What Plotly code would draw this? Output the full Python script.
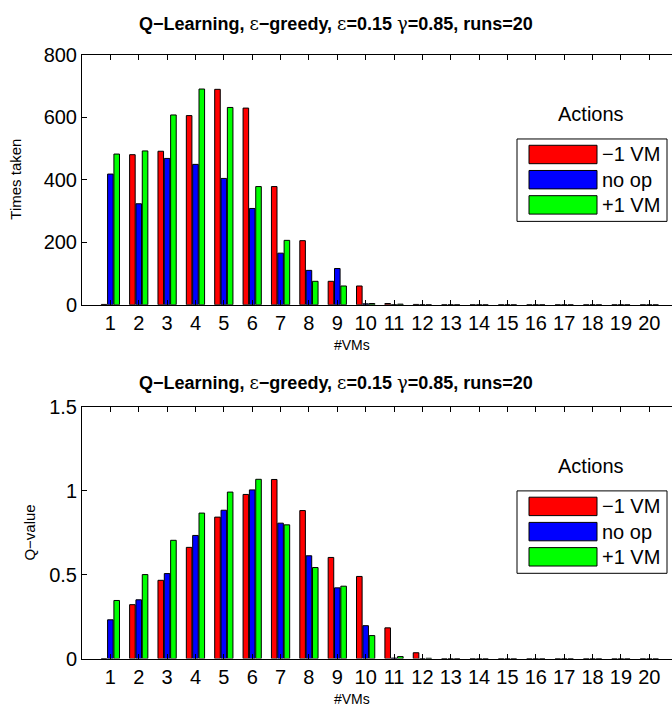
import plotly.graph_objects as go

# ---------------- data ----------------
vms = list(range(1, 21))
series_names = ["\u22121 VM", "no op", "+1 VM"]
series_colors = ["#FF0000", "#0000FF", "#00FF00"]

times_minus = [1, 480, 491, 605, 689, 629, 378, 205, 75, 60, 4, 1, 0, 0, 0, 0, 0, 0, 0, 0]
times_noop = [418, 323, 468, 449, 404, 308, 165, 110, 116, 3, 0, 0, 0, 0, 0, 0, 0, 0, 0, 0]
times_plus = [482, 492, 607, 690, 631, 378, 206, 75, 60, 4, 2, 0, 0, 0, 0, 0, 0, 0, 0, 0]

q_minus = [0, 0.321, 0.466, 0.662, 0.842, 0.977, 1.066, 0.881, 0.602, 0.489, 0.183, 0.035, 0, 0, 0, 0, 0, 0, 0, 0]
q_noop = [0.231, 0.350, 0.506, 0.733, 0.883, 1.004, 0.806, 0.612, 0.421, 0.196, 0.003, 0, 0, 0, 0, 0, 0, 0, 0, 0]
q_plus = [0.346, 0.500, 0.704, 0.866, 0.991, 1.067, 0.796, 0.542, 0.431, 0.137, 0.012, 0.002, 0, 0, 0, 0, 0, 0, 0, 0]

top_yticks = [0, 200, 400, 600, 800]
bot_yticks = [0, 0.5, 1, 1.5]
bot_yticklabels = ["0", "0.5", "1", "1.5"]

# ---------------- layout geometry (pixels) ----------------
W, H = 672, 721
L = 82
FONT = "Liberation Sans, Arial, sans-serif"

def py(p):
    return 1 - p / H

def px(p):
    return (p - L) / (W - L)

top_axis = (45, 303)     # top px, bottom px
bot_axis = (408, 668)

fig = go.Figure()

for vals, name, col in zip([times_minus, times_noop, times_plus], series_names, series_colors):
    fig.add_trace(go.Bar(x=vms, y=vals, name=name, marker=dict(color=col, line=dict(color="black", width=1)),
                         xaxis="x", yaxis="y", showlegend=False))
for vals, name, col in zip([q_minus, q_noop, q_plus], series_names, series_colors):
    fig.add_trace(go.Bar(x=vms, y=vals, name=name, marker=dict(color=col, line=dict(color="black", width=1)),
                         xaxis="x2", yaxis="y2", showlegend=False))

xcommon = dict(range=[0, 20.80], tickmode="array", tickvals=vms, ticktext=[str(v) for v in vms],
               ticks="inside", ticklen=5, tickcolor="black", showline=True, linecolor="black",
               linewidth=1, mirror="allticks", showgrid=False, zeroline=False,
               tickfont=dict(family=FONT, size=20, color="black"))
ycommon = dict(ticks="inside", ticklen=5, tickcolor="black", showline=True, linecolor="black",
               linewidth=1, showgrid=False, zeroline=False,
               tickfont=dict(family=FONT, size=20, color="black"))

fig.update_layout(
    width=W, height=H,
    margin=dict(l=L, r=0, t=0, b=0),
    paper_bgcolor="white", plot_bgcolor="white",
    barmode="group", bargap=0.33, bargroupgap=0.12,
    xaxis=dict(domain=[0, 1], anchor="y", **xcommon),
    yaxis=dict(domain=[py(top_axis[1]), py(top_axis[0])], range=[0, 800], tickvals=top_yticks,
               anchor="x", **ycommon),
    xaxis2=dict(domain=[0, 1], anchor="y2", **xcommon),
    yaxis2=dict(domain=[py(bot_axis[1]), py(bot_axis[0])], range=[0, 1.5], tickvals=bot_yticks,
                ticktext=bot_yticklabels, anchor="x2", **ycommon),
    showlegend=False,
)

eps = "<span style='font-weight:normal;font-family:DejaVu Serif'>\u03b5</span>"
gam = "<span style='font-weight:normal;font-family:DejaVu Serif'>\u03b3</span>"
title = ("<b>Q\u2212Learning, </b>" + eps + "<b>\u2212greedy, </b>" + eps + "<b>=0.15 </b>" + gam +
         "<b>=0.85, runs=20</b>")

annotations = []
shapes = []
for (atop, abot), ylab, ylx, tgap in [(top_axis, "Times taken", 16, 32), (bot_axis, "Q\u2212value", 30, 25)]:
    annotations.append(dict(text=title, x=px(336), y=py(atop - tgap), xref="paper", yref="paper",
                            showarrow=False, xanchor="center", yanchor="middle",
                            font=dict(family=FONT, size=18, color="black")))
    annotations.append(dict(text="#VMs", x=px(352), y=py(abot + 42), xref="paper", yref="paper",
                            showarrow=False, xanchor="center", yanchor="middle",
                            font=dict(family=FONT, size=14, color="black")))
    annotations.append(dict(text=ylab, x=px(ylx), y=py((atop + abot) / 2), xref="paper", yref="paper",
                            showarrow=False, xanchor="center", yanchor="middle", textangle=-90,
                            font=dict(family=FONT, size=15, color="black")))
    # legend
    annotations.append(dict(text="Actions", x=px(591), y=py(atop + 61), xref="paper", yref="paper",
                            showarrow=False, xanchor="center", yanchor="middle",
                            font=dict(family=FONT, size=20, color="black")))
    shapes.append(dict(type="rect", xref="paper", yref="paper", x0=px(517), x1=px(667),
                       y0=py(atop + 87), y1=py(atop + 172), line=dict(color="black", width=1),
                       fillcolor="white"))
    for i, (name, col) in enumerate(zip(series_names, series_colors)):
        cy = atop + 103 + 26 * i
        shapes.append(dict(type="rect", xref="paper", yref="paper", x0=px(529), x1=px(597),
                           y0=py(cy + 9.5), y1=py(cy - 9.5), line=dict(color="black", width=1),
                           fillcolor=col))
        annotations.append(dict(text=name, x=px(600), y=py(cy), xref="paper", yref="paper",
                                showarrow=False, xanchor="left", yanchor="middle",
                                font=dict(family=FONT, size=20, color="black")))

fig.update_layout(annotations=annotations, shapes=shapes)
fig.write_html("out.html")
